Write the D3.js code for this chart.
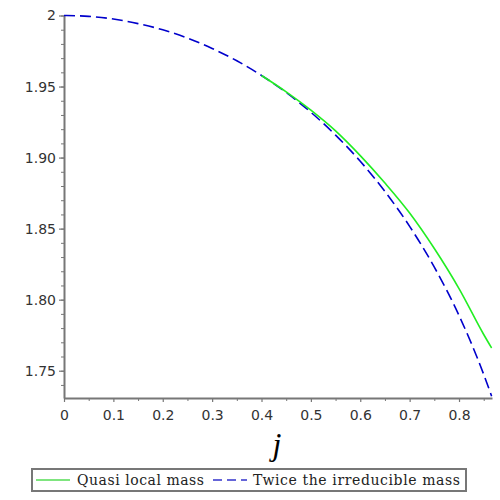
<html>
  <head>
    <script src="https://d3js.org/d3.v7.min.js"></script>
    <style>
      body { margin: 0; background: #fff; }
      .axis path, .axis line { stroke: #777; }
      .axis text { fill: #333; font-family: "DejaVu Sans", sans-serif; font-size: 14px; }
    </style>
  </head>
  <body>
    <svg id="chart" width="500" height="500"></svg>
    <script>
      // values
      var jIrr = [0, 0.05, 0.1, 0.15, 0.2, 0.25, 0.3, 0.35, 0.4, 0.45, 0.5, 0.55, 0.6, 0.65, 0.7, 0.75, 0.8, 0.85, 0.866];
      var irrMass = [2, 1.9994, 1.9975, 1.9943, 1.9899, 1.9841, 1.9768, 1.9681, 1.9578, 1.9458, 1.9319, 1.9158, 1.8974, 1.8761, 1.8516, 1.8229, 1.7889, 1.7474, 1.7321];
      var jQuasi = [0.4, 0.45, 0.5, 0.55, 0.6, 0.65, 0.7, 0.75, 0.8, 0.85, 0.866];
      var quasiMass = [1.9578, 1.9463, 1.9334, 1.9188, 1.9014, 1.8821, 1.861, 1.836, 1.8078, 1.7755, 1.766];
      var xTicks = [0, 0.1, 0.2, 0.3, 0.4, 0.5, 0.6, 0.7, 0.8];
      var yTicks = [1.75, 1.8, 1.85, 1.9, 1.95, 2];
      var legendLabels = ["Quasi local mass", "Twice the irreducible mass"];

      var svg = d3.select("#chart");
      var x = d3.scaleLinear().domain([0, 0.8668]).range([64, 492]);
      var y = d3.scaleLinear().domain([1.7308, 2]).range([398, 15.5]);

      // minor ticks
      svg.append("g")
        .attr("class", "axis")
        .attr("transform", "translate(64,0)")
        .call(d3.axisLeft(y).tickValues(d3.range(1.74, 2.001, 0.01)).tickSize(3).tickFormat(""))
        .select(".domain").remove();
      svg.append("g")
        .attr("class", "axis")
        .attr("transform", "translate(0,398)")
        .call(d3.axisBottom(x).tickValues(d3.range(0.05, 0.86, 0.1)).tickSize(3).tickFormat(""))
        .select(".domain").remove();

      var yAxis = svg.append("g")
        .attr("class", "axis")
        .attr("transform", "translate(64,0)")
        .call(d3.axisLeft(y).tickValues(yTicks).tickSize(5).tickSizeOuter(0)
          .tickFormat(function (d) { return d === 2 ? "2" : d3.format(".2f")(d); }));
      yAxis.select(".domain").attr("stroke-width", 2);
      yAxis.selectAll("line").attr("stroke-width", 1.2);

      var xAxis = svg.append("g")
        .attr("class", "axis")
        .attr("transform", "translate(0,398)")
        .call(d3.axisBottom(x).tickValues(xTicks).tickSize(4).tickSizeOuter(0)
          .tickFormat(function (d) { return d === 0 ? "0" : d3.format(".1f")(d); }));
      xAxis.select(".domain").attr("stroke-width", 2);
      xAxis.selectAll("line").attr("stroke-width", 1.2);
      xAxis.selectAll("text").attr("dy", "1.1em");

      var line = d3.line()
        .x(function (d) { return x(d[0]); })
        .y(function (d) { return y(d[1]); })
        .curve(d3.curveMonotoneX);

      svg.append("path")
        .datum(d3.zip(jIrr, irrMass))
        .attr("d", line)
        .attr("fill", "none")
        .attr("stroke", "#0000cc")
        .attr("stroke-width", 1.6)
        .attr("stroke-dasharray", "11,5");

      svg.append("path")
        .datum(d3.zip(jQuasi, quasiMass))
        .attr("d", line)
        .attr("fill", "none")
        .attr("stroke", "#22ee22")
        .attr("stroke-width", 1.6);

      // axis title
      svg.append("text")
        .attr("x", 277)
        .attr("y", 455)
        .attr("text-anchor", "middle")
        .style("font-family", "'Liberation Serif', serif")
        .style("font-style", "italic")
        .style("font-size", "32px")
        .text("j");

      // legend
      var lg = svg.append("g");
      lg.append("rect")
        .attr("x", 32).attr("y", 469).attr("width", 434).attr("height", 22)
        .attr("fill", "#fff").attr("stroke", "#777").attr("stroke-width", 2);
      lg.append("line")
        .attr("x1", 36).attr("x2", 70).attr("y1", 480).attr("y2", 480)
        .attr("stroke", "#55dd55").attr("stroke-width", 1.5);
      lg.append("line")
        .attr("x1", 213).attr("x2", 247).attr("y1", 480).attr("y2", 480)
        .attr("stroke", "#3333cc").attr("stroke-width", 1.5)
        .attr("stroke-dasharray", "9,5");
      lg.selectAll("text.lbl")
        .data(legendLabels)
        .enter()
        .append("text")
        .attr("class", "lbl")
        .attr("x", function (d, i) { return i === 0 ? 77 : 253; })
        .attr("y", 485)
        .attr("textLength", function (d, i) { return i === 0 ? 127 : 207; })
        .style("font-family", "'DejaVu Serif', serif")
        .style("font-size", "14px")
        .style("fill", "#222")
        .text(function (d) { return d; });
    </script>
  </body>
</html>
